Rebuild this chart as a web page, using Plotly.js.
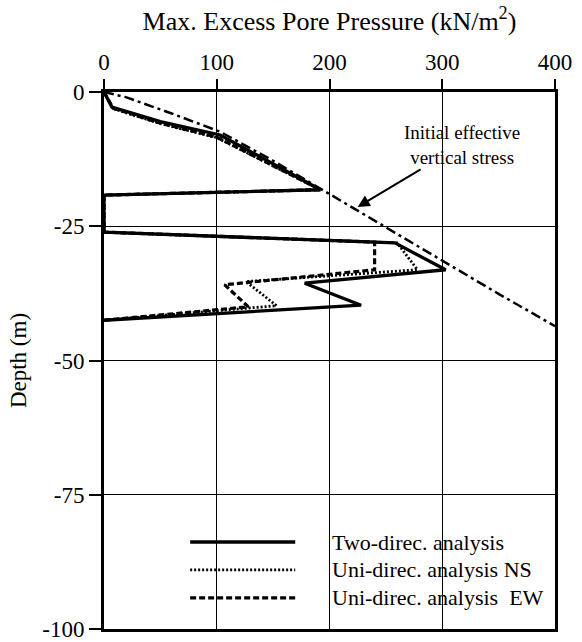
<!DOCTYPE html>
<html>
<head>
<meta charset="utf-8">
<script src="https://cdn.plot.ly/plotly-3.0.1.min.js"></script>
<style>
  html, body { margin: 0; padding: 0; background: #fff; }
  #chart { width: 582px; height: 642px; }
</style>
</head>
<body>
<div id="chart"></div>
<script>
// Max. excess pore pressure (kN/m2) against depth (m)
const twoDirPressure = [0, 7, 50, 103, 192, 0, 0, 258, 303, 178, 228, 0];
const twoDirDepth    = [0, -2.8, -5.5, -8.0, -18.2, -19.2, -26.1, -28.1, -33.1, -35.6, -39.7, -42.5];

const uniNsPressure = [0, 8, 50, 100, 192, 0, 0, 260, 278, 126, 153, 0];
const uniNsDepth    = [0, -3.1, -5.9, -8.5, -18.2, -19.2, -26.1, -28.1, -33.1, -35.3, -39.8, -42.5];

const uniEwPressure = [0, 8, 50, 100, 192, 0, 0, 240, 240, 107, 128, 0];
const uniEwDepth    = [0, -3.0, -5.8, -8.4, -18.2, -19.2, -26.1, -27.95, -33.1, -35.9, -40.0, -42.5];

// Initial effective vertical stress profile
const stressPressure = [0, 20, 60, 103, 150, 192, 220, 260, 303, 350, 400];
const stressDepth    = [0, -1.0, -4.0, -7.4, -12.8, -18.0, -21.5, -26.4, -31.8, -37.6, -43.6];

const xTicks = [0, 100, 200, 300, 400];
const yTicks = [0, -25, -50, -75, -100];

const legendLabels = [
  'Two-direc. analysis',
  'Uni-direc. analysis NS',
  'Uni-direc. analysis\u00a0 EW'
];
const annotationText = 'Initial effective<br>vertical stress';

const serif = 'Liberation Serif, Times New Roman, serif';

const traces = [
  { x: stressPressure, y: stressDepth, mode: 'lines', name: 'Initial effective vertical stress',
    line: { color: '#000', width: 2.5, dash: '10px,4px,3px,4px' } },
  { x: uniEwPressure, y: uniEwDepth, mode: 'lines', name: legendLabels[2],
    line: { color: '#000', width: 3.2, dash: '6px,3px' } },
  { x: uniNsPressure, y: uniNsDepth, mode: 'lines', name: legendLabels[1],
    line: { color: '#000', width: 2.8, dash: '2px,2px' } },
  { x: twoDirPressure, y: twoDirDepth, mode: 'lines', name: legendLabels[0],
    line: { color: '#000', width: 3.3 } }
];

// Key for the three analysis lines, placed in the lower part of the plot
const keyRows = [
  { y: 0.162, dash: 'solid', width: 3.3 },
  { y: 0.110, dash: '2px,2px', width: 2.8 },
  { y: 0.058, dash: '6px,3px', width: 3.2 }
];
const shapes = keyRows.map(r => ({
  type: 'line', xref: 'paper', yref: 'paper',
  x0: 0.191, x1: 0.424, y0: r.y, y1: r.y,
  line: { color: '#000', width: r.width, dash: r.dash }
}));
const annotations = keyRows.map((r, i) => ({
  xref: 'paper', yref: 'paper', x: 0.50, y: r.y,
  xanchor: 'left', yanchor: 'middle', showarrow: false,
  text: legendLabels[i], font: { family: serif, size: 22, color: '#000' }
}));
annotations.push({
  x: 225, y: -21.4, xref: 'x', yref: 'y',
  text: annotationText, align: 'center',
  showarrow: true, arrowhead: 2, arrowsize: 1.2, arrowwidth: 2, arrowcolor: '#000',
  ax: 104, ay: -62, standoff: 0,
  font: { family: serif, size: 19, color: '#000' }
});

const layout = {
  width: 582, height: 642,
  margin: { l: 104, r: 27, t: 92, b: 13 },
  paper_bgcolor: '#fff', plot_bgcolor: '#fff',
  showlegend: false,
  font: { family: serif, color: '#000', size: 23 },
  xaxis: {
    side: 'top', range: [0, 400], tickvals: xTicks, ticktext: xTicks.map(String),
    ticks: 'outside', ticklen: 10, tickwidth: 2, tickcolor: '#000',
    showline: true, linewidth: 3, linecolor: '#000', mirror: true,
    showgrid: true, gridcolor: '#000', gridwidth: 1.3, zeroline: false,
    ticklabeloverflow: 'allow',
    tickfont: { family: serif, size: 23, color: '#000' },
    title: { text: 'Max. Excess Pore Pressure (kN/m<sup>2</sup>)', standoff: 12,
             font: { family: serif, size: 26, color: '#000' } }
  },
  yaxis: {
    range: [-100, 0], tickvals: yTicks, ticktext: yTicks.map(String),
    ticks: 'outside', ticklen: 12, tickwidth: 2, tickcolor: '#000',
    showline: true, linewidth: 3, linecolor: '#000', mirror: true,
    showgrid: true, gridcolor: '#000', gridwidth: 1.3, zeroline: false,
    ticklabeloverflow: 'allow',
    tickfont: { family: serif, size: 23, color: '#000' },
    title: { text: 'Depth (m)', standoff: 10,
             font: { family: serif, size: 23, color: '#000' } }
  },
  shapes: shapes,
  annotations: annotations
};

Plotly.newPlot('chart', traces, layout, { staticPlot: true, displayModeBar: false });
</script>
</body>
</html>
